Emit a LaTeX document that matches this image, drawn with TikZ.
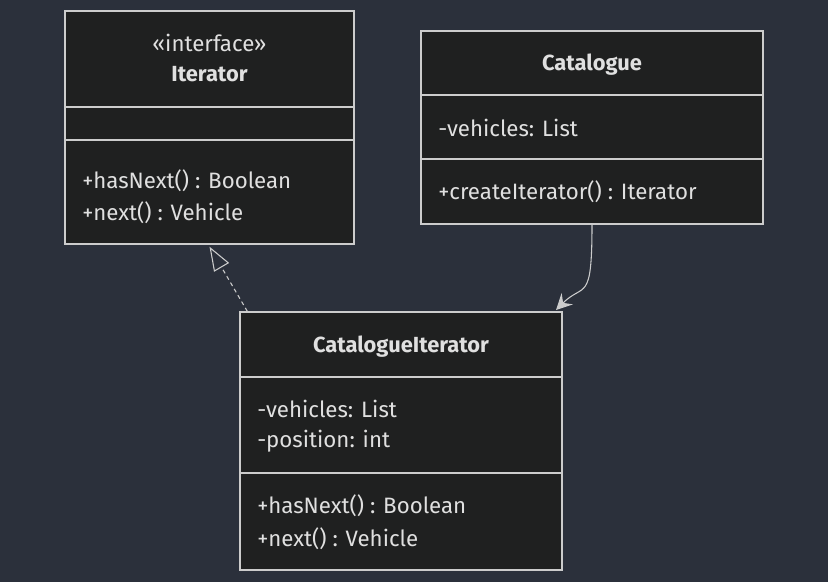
\documentclass[tikz,border=0pt]{standalone}
\usepackage{fontspec}
\setmainfont{Fira Sans}
\usetikzlibrary{arrows.meta,fit}
\definecolor{bgc}{HTML}{2B303B}
\definecolor{boxc}{HTML}{1F2020}
\definecolor{linec}{HTML}{CCCCCC}
\definecolor{txtc}{HTML}{E0E0E0}
\begin{document}
\begin{tikzpicture}[x=0.75pt,y=-0.75pt,
  box/.style={draw=linec, fill=boxc, line width=1pt, inner sep=0pt},
  divline/.style={draw=linec, line width=1pt},
  txt/.style={text=txtc, font=\fontsize{16.7pt}{19pt}\selectfont, inner sep=0pt},
  ttl/.style={txt, font=\fontsize{16.4pt}{19pt}\selectfont\bfseries},
  conn/.style={draw=linec, line width=0.8pt}]
\fill[bgc] (0,0) rectangle (828,582);
\useasboundingbox (0,0) rectangle (828,582);
% Iterator
\node[box, fit={(65,11) (354,244)}] (iter) {};
\draw[divline] (65,107) -- (354,107);
\draw[divline] (65,140) -- (354,140);
\node[txt] (istereo) at (209.5,43) {«interface»};
\node[ttl] (ititle) at (209.5,74.5) {Iterator};
\node[txt, anchor=west] (im1) at (82,180.5) {+hasNext() : Boolean};
\node[txt, anchor=west] (im2) at (82,212.5) {+next() : Vehicle};
% Catalogue
\node[box, fit={(421,31) (763,224)}] (cat) {};
\draw[divline] (421,95) -- (763,95);
\draw[divline] (421,159) -- (763,159);
\node[ttl] (ctitle) at (592,64.5) {Catalogue};
\node[txt, anchor=west] (ca1) at (438,128) {-vehicles: List};
\node[txt, anchor=west] (cm1) at (438,191.5) {+createIterator() : Iterator};
% CatalogueIterator
\node[box, fit={(240,312) (562,570)}] (ci) {};
\draw[divline] (240,377) -- (562,377);
\draw[divline] (240,473) -- (562,473);
\node[ttl] (cititle) at (401,346.5) {CatalogueIterator};
\node[txt, anchor=west] (cia1) at (257,409) {-vehicles: List};
\node[txt, anchor=west] (cia2) at (257,441.5) {-position: int};
\node[txt, anchor=west] (cim1) at (257,505.5) {+hasNext() : Boolean};
\node[txt, anchor=west] (cim2) at (257,538.5) {+next() : Vehicle};
% connectors
\draw[conn, dash pattern=on 3pt off 2.5pt, -{Triangle[open, length=18pt, width=13pt, line width=0.8pt]}]
  ([xshift=6pt]ci.north west) -- ([yshift=-1.5pt]iter.south);
\draw[conn, -{Stealth[length=12pt, width=12pt, inset=4.5pt]}]
  (cat.south) .. controls +(0,80) and +(28,-28) .. ([xshift=-5pt,yshift=1pt]ci.north east);
\end{tikzpicture}
\end{document}
